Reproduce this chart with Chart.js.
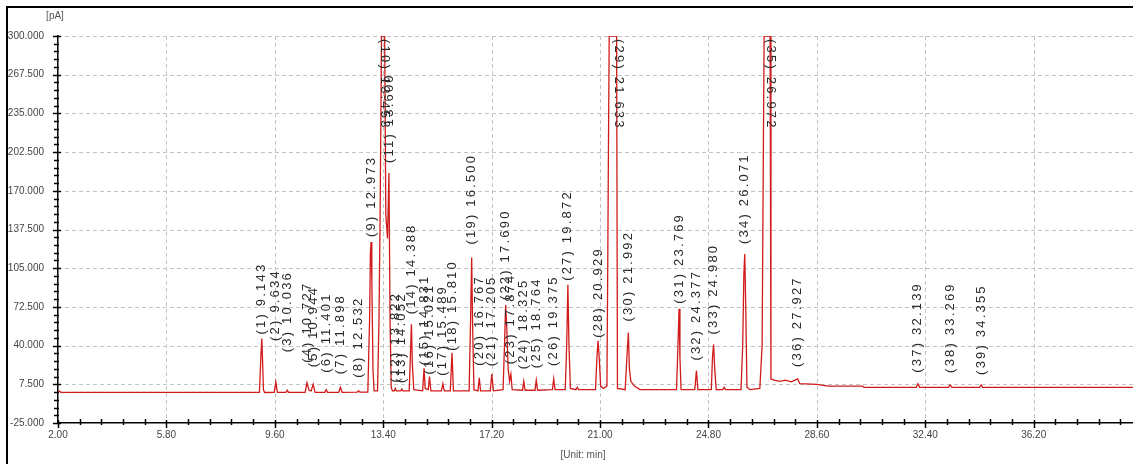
<!DOCTYPE html>
<html>
<head>
<meta charset="utf-8">
<script src="https://cdn.jsdelivr.net/npm/chart.js@4.4.1/dist/chart.umd.min.js"></script>
<style>
  html, body { margin: 0; padding: 0; background: #fff; }
  #wrap { position: relative; width: 1133px; height: 464px; overflow: hidden; }
  #frame { position: absolute; left: 6px; top: 6px; right: -10px; bottom: -10px;
           border-left: 2px solid #000; border-top: 2px solid #000; pointer-events: none; }
</style>
</head>
<body>
<div id="wrap">
  <canvas id="chart" width="1133" height="464"></canvas>
  <div id="frame"></div>
</div>
<script>
// Chromatogram trace (time in min, signal in pA)
const traceTime = [
  2.00, 2.05, 2.10, 9.06, 9.11, 9.143, 9.17, 9.20, 9.24, 9.58, 9.634, 9.69,
  9.99, 10.036, 10.08, 10.66, 10.727, 10.80, 10.87, 10.944, 11.01, 11.35, 11.401, 11.45,
  11.84, 11.898, 11.96, 12.49, 12.532, 12.58, 12.86, 12.92, 12.95, 12.973, 13.00, 13.04,
  13.08, 13.20, 13.25, 13.29, 13.34, 13.45, 13.49, 13.55, 13.60, 13.64, 13.68, 13.72,
  13.79, 13.822, 13.86, 14.01, 14.052, 14.09, 14.31, 14.35, 14.388, 14.42, 14.47, 14.78,
  14.831, 14.87, 14.98, 15.021, 15.07, 15.44, 15.489, 15.54, 15.75, 15.81, 15.86, 16.41,
  16.46, 16.50, 16.53, 16.58, 16.72, 16.767, 16.81, 17.15, 17.205, 17.26, 17.60, 17.65,
  17.69, 17.73, 17.78, 17.83, 17.874, 17.92, 18.28, 18.325, 18.37, 18.72, 18.764, 18.81,
  19.33, 19.375, 19.42, 19.78, 19.83, 19.872, 19.91, 19.96, 20.15, 20.20, 20.25, 20.84,
  20.89, 20.929, 20.97, 21.02, 21.12, 21.24, 21.27, 21.29, 21.32, 21.58, 21.61, 21.88,
  21.94, 21.992, 22.03, 22.08, 22.20, 22.40, 23.68, 23.73, 23.769, 23.80, 23.84, 24.32,
  24.377, 24.43, 24.90, 24.94, 24.98, 25.02, 25.07, 25.30, 25.35, 25.40, 25.94, 26.00,
  26.04, 26.071, 26.10, 26.15, 26.25, 26.60, 26.68, 26.72, 26.75, 26.96, 26.99, 27.10,
  27.30, 27.50, 27.70, 27.927, 28.00, 28.60, 29.00, 30.20, 30.25, 32.08, 32.139, 32.20,
  33.21, 33.269, 33.33, 34.30, 34.355, 34.41, 39.68
];
const traceSignal = [
  0.8, 1.8, 0.8, 0.8, 30, 46, 28, 3, 0.6, 0.8, 9.5, 0.8,
  0.8, 2.5, 0.8, 0.8, 8.7, 2.5, 2, 7.6, 0.8, 0.8, 3, 0.8,
  0.8, 5, 0.8, 1, 2, 1, 1, 60, 118, 127, 95, 20,
  2, 2, 60, 148, 300, 300, 150, 130, 185, 60, 5, 2,
  2, 4, 2, 2, 3.5, 2, 2, 30, 58, 25, 3, 2,
  21, 4, 3, 14, 2, 2, 8, 2, 2, 34, 2, 2,
  60, 114, 60, 3, 2, 13, 2, 2, 16, 2, 3, 40,
  74, 55, 20, 10, 16, 3, 2.5, 10, 2.5, 2.5, 11, 2.5,
  3, 12, 3, 3, 40, 91, 40, 4, 3, 5, 3, 3,
  30, 44, 30, 6, 4, 6, 110, 190, 300, 300, 4, 3,
  30, 51, 20, 10, 6, 3, 3, 40, 71, 30, 3, 3,
  19, 3, 3, 30, 41, 20, 3, 3, 5, 3, 3, 40,
  100, 117, 80, 5, 3, 4, 40, 190, 300, 300, 12, 11,
  10, 11, 9.5, 12, 8, 7.5, 6, 6, 5, 5, 8, 5,
  5, 7, 5, 5, 7, 5, 5
];

// Integrated peaks: retention time and apex height (300 = off scale)
const peakTimes = [
  9.143, 9.634, 10.036, 10.727, 10.944, 11.401, 11.898, 12.532, 12.973, 13.453,
  13.600, 13.822, 14.052, 14.388, 14.831, 15.021, 15.489, 15.810, 16.500, 16.767,
  17.205, 17.690, 17.874, 18.325, 18.764, 19.375, 19.872, 20.929, 21.633, 21.992,
  23.769, 24.377, 24.980, 26.071, 26.972, 27.927, 32.139, 33.269, 34.355
];
const peakHeights = [
  46, 9.5, 2.5, 8.7, 7.6, 3, 5, 2, 127, 300,
  185, 4, 3.5, 58, 21, 14, 8, 34, 114, 13,
  16, 74, 16, 10, 11, 12, 91, 44, 300, 51,
  71, 19, 41, 117, 300, 12, 8, 7, 7
];

// axis ticks
const xTicks = [2.00, 5.80, 9.60, 13.40, 17.20, 21.00, 24.80, 28.60, 32.40, 36.20];
const yTicks = [-25, 7.5, 40, 72.5, 105, 137.5, 170, 202.5, 235, 267.5, 300];

// label lift above apex, px (the software pushes small-peak labels up)
const labelGap = [
  4, 41, 38, 20, 17, 17, 13, 13, 5, 0,
  10, 6, 6, 10, 3, 2, 8, 2, 13, 12,
  8, 5, 10, 12, 12, 13, 4, 3, 0, 11,
  5, 10, 10, 10, 0, 12, 11, 12, 10
];

const X_MIN = 2, X_MAX = 39.68, Y_MIN = -25, Y_MAX = 300;

const points = traceTime.map((t, i) => ({ x: t, y: traceSignal[i] }));

const decor = {
  id: 'decor',
  beforeDatasetsDraw(chart) {
    const { ctx, chartArea: a, scales: { x, y } } = chart;
    ctx.save();
    ctx.strokeStyle = '#c4c4c4';
    ctx.lineWidth = 1;
    ctx.setLineDash([4, 3]);
    yTicks.forEach(v => {
      if (v === Y_MIN) return;
      const py = Math.round(y.getPixelForValue(v)) + 0.5;
      ctx.beginPath(); ctx.moveTo(a.left, py); ctx.lineTo(a.right, py); ctx.stroke();
    });
    xTicks.forEach(v => {
      if (v === X_MIN) return;
      const px = Math.round(x.getPixelForValue(v)) + 0.5;
      ctx.beginPath(); ctx.moveTo(px, a.top); ctx.lineTo(px, a.bottom); ctx.stroke();
    });
    ctx.restore();
  },
  afterDraw(chart) {
    const { ctx, chartArea: a, scales: { x, y } } = chart;
    ctx.save();
    // tick marks
    ctx.strokeStyle = '#000';
    ctx.lineWidth = 1.5;
    for (let k = 0; ; k++) {
      const v = X_MIN + k * 0.76;
      if (v > X_MAX) break;
      const px = Math.round(x.getPixelForValue(v)) + 0.5;
      const major = k % 5 === 0;
      ctx.beginPath();
      ctx.moveTo(px, a.bottom - (major ? 3 : 4));
      ctx.lineTo(px, a.bottom + (major ? 5 : 2));
      ctx.stroke();
    }
    for (let k = 0; k <= 50; k++) {
      const v = Y_MIN + k * 6.5;
      const py = Math.round(y.getPixelForValue(v)) + 0.5;
      const major = k % 5 === 0;
      ctx.beginPath();
      ctx.moveTo(a.left - (major ? 5 : 4), py);
      ctx.lineTo(a.left + (major ? 3 : 1), py);
      ctx.stroke();
    }

    // unit captions
    ctx.fillStyle = '#555';
    ctx.font = '10px "Liberation Sans", Arial, sans-serif';
    ctx.textBaseline = 'middle';
    ctx.textAlign = 'center';
    ctx.fillText('[pA]', 55, 16);
    ctx.fillText('[Unit: min]', 583, 455);

    // peak labels
    ctx.fillStyle = '#2a2a2a';
    ctx.font = '13px "Liberation Sans", Arial, sans-serif';
    if ('letterSpacing' in ctx) ctx.letterSpacing = '2.2px';
    ctx.textAlign = 'left';
    ctx.textBaseline = 'middle';
    peakTimes.forEach((t, i) => {
      const text = '(' + (i + 1) + ') ' + t.toFixed(3);
      const px = x.getPixelForValue(t);
      ctx.save();
      if (peakHeights[i] >= Y_MAX) {
        ctx.translate(px, a.top + 3);
        ctx.rotate(Math.PI / 2);
      } else {
        ctx.translate(px, y.getPixelForValue(peakHeights[i]) - labelGap[i]);
        ctx.rotate(-Math.PI / 2);
      }
      ctx.fillText(text, 0, 0);
      ctx.restore();
    });
    ctx.restore();
  }
};

new Chart(document.getElementById('chart').getContext('2d'), {
  type: 'line',
  data: {
    datasets: [{
      data: points,
      borderColor: '#d11a1a',
      borderWidth: 1.3,
      pointRadius: 0,
      tension: 0,
      fill: false
    }]
  },
  options: {
    responsive: false,
    animation: false,
    layout: { padding: { top: 36, left: 0, right: 0, bottom: 0 } },
    plugins: { legend: { display: false }, tooltip: { enabled: false } },
    scales: {
      x: {
        type: 'linear',
        min: X_MIN,
        max: X_MAX,
        afterBuildTicks: s => { s.ticks = xTicks.map(v => ({ value: v })); },
        afterFit: s => { s.height = 41; },
        grid: { display: false, drawTicks: false },
        border: { display: true, color: '#000', width: 1.5 },
        ticks: {
          padding: 6,
          maxRotation: 0,
          autoSkip: false,
          color: '#444',
          font: { size: 10, family: '"Liberation Sans", Arial, sans-serif' },
          callback: v => Number(v).toFixed(2)
        }
      },
      y: {
        min: Y_MIN,
        max: Y_MAX,
        afterBuildTicks: s => { s.ticks = yTicks.map(v => ({ value: v })); },
        afterFit: s => { s.width = 58; },
        grid: { display: false, drawTicks: false },
        border: { display: true, color: '#000', width: 1.5 },
        ticks: {
          padding: 14,
          autoSkip: false,
          color: '#444',
          font: { size: 10, family: '"Liberation Sans", Arial, sans-serif' },
          callback: v => Number(v).toFixed(3)
        }
      }
    }
  },
  plugins: [decor]
});
</script>
</body>
</html>
